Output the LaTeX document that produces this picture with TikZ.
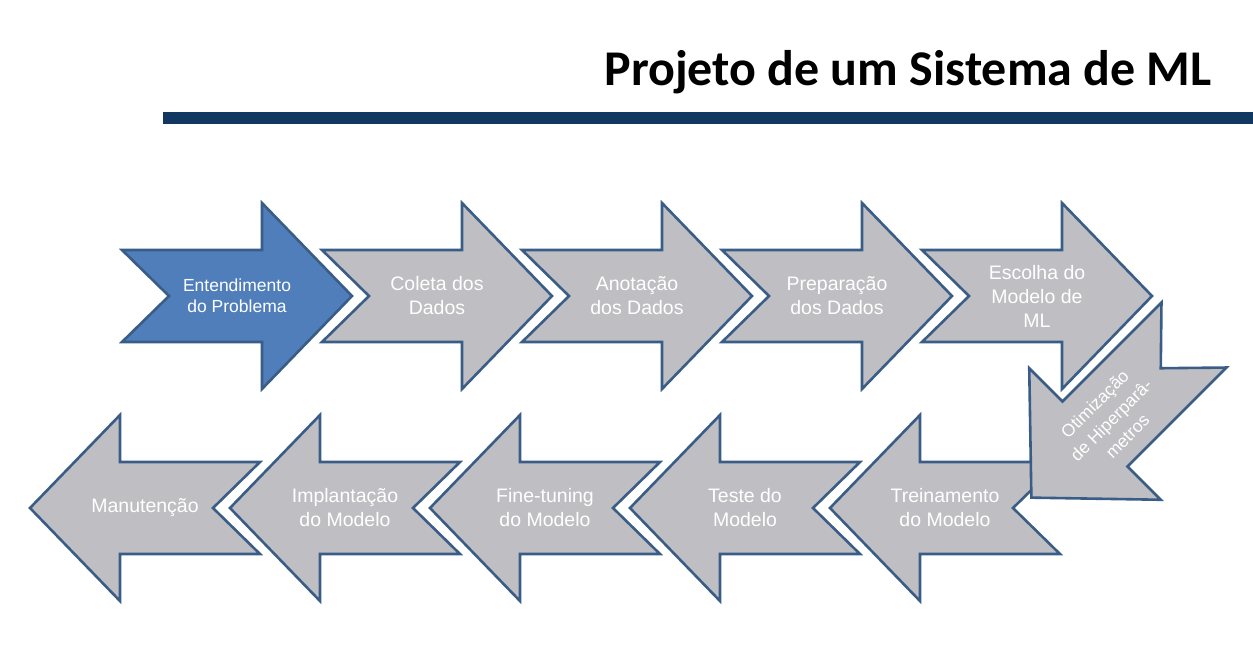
\documentclass[tikz,border=0pt]{standalone}
\usepackage{fontspec}
\setmainfont{Liberation Sans}
\newfontfamily\titlefont{Carlito}
\usepackage{xcolor}

\definecolor{contorno}{RGB}{58,93,136}
\definecolor{cinza}{RGB}{191,190,194}
\definecolor{azul}{RGB}{79,126,187}
\definecolor{faixa}{RGB}{17,56,96}

\tikzset{
  cor etapa/.initial=cinza,
  seta/.style={draw=contorno, line width=2.6pt, line join=miter},
  etapa/.pic={
    \draw[seta, fill=\pgfkeysvalueof{/tikz/cor etapa}] (0,46) -- (140,46) -- (140,93) -- (230,0) -- (140,-93) -- (140,-46) -- (0,-46) -- (47,0) -- cycle;
  },
  rotulo/.style={text=white, align=center, font=\fontsize{19.5}{24}\selectfont}
}

\begin{document}
\begin{tikzpicture}[x=1pt, y=1pt]
  \useasboundingbox (0,0) rectangle (1253,-656);

  % Title and rule
  \node[anchor=base east, inner sep=0pt, font=\titlefont\bfseries\fontsize{50}{60}\selectfont] (titulo) at (1212,-85) {Projeto de um Sistema de ML};
  \fill[faixa] (163,-112) rectangle (1253,-124);

  % First row (left to right)
  \pic[cor etapa=azul] at (122,-296) {etapa};
  \node[rotulo, font=\fontsize{17.5}{21}\selectfont] (entendimento) at (237,-296) {Entendimento\\do Problema};
  \foreach \x/\nome/\texto in {322/coleta/{Coleta dos\\Dados}, 522/anotacao/{Anotação\\dos Dados}, 722/preparacao/{Preparação\\dos Dados}, 922/escolha/{Escolha do\\Modelo de\\ML}}{
    \pic at (\x,-296) {etapa};
    \node[rotulo] (\nome) at (\x+115,-296) {\texto};
  }

  % Second row (right to left)
  \foreach \x/\nome/\texto in {1060/treinamento/{Treinamento\\do Modelo}, 860/teste/{Teste do\\Modelo}, 660/finetuning/{Fine-tuning\\do Modelo}, 460/implantacao/{Implantação\\do Modelo}, 260/manutencao/{Manutenção}}{
    \pic[rotate=180] at (\x,-508) {etapa};
    \node[rotulo] (\nome) at (\x-115,-508) {\texto};
  }

  % Turning step, drawn last so it sits over Treinamento
  \pic[rotate=225] at (1194,-335) {etapa};
  \node[rotulo, rotate=45, font=\fontsize{17.5}{23}\selectfont] (otimizacao) at (1111,-420) {Otimização\\de Hiperparâ-\\metros};
\end{tikzpicture}
\end{document}
